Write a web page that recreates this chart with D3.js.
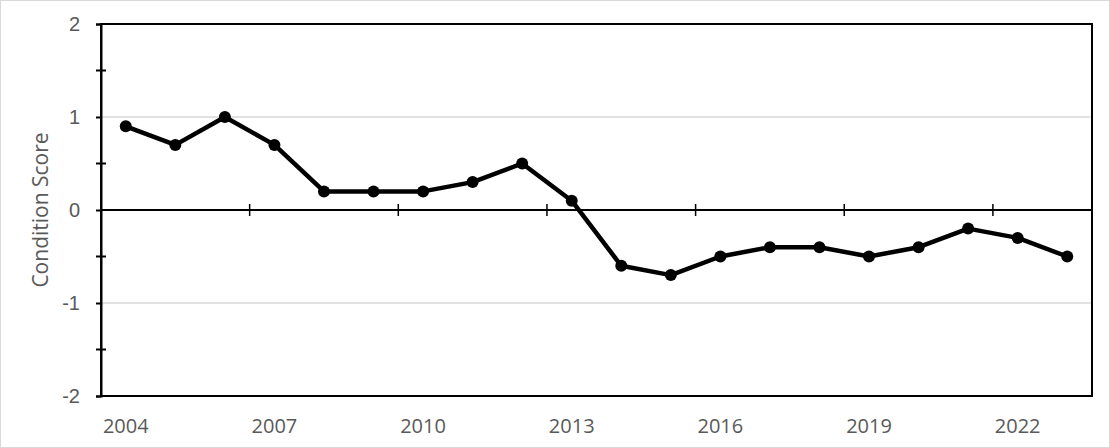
<!DOCTYPE html>
<html>
<head>
<meta charset="utf-8">
<script src="https://cdn.jsdelivr.net/npm/d3@7"></script>
<style>
  body { margin: 0; background: #fff; }
  svg { display: block; font-family: "Open Sans", "Noto Sans", sans-serif; }
</style>
</head>
<body>
<svg id="drawing_region"></svg>
<script>
// data
const years = ["2004","2005","2006","2007","2008","2009","2010","2011","2012","2013",
               "2014","2015","2016","2017","2018","2019","2020","2021","2022","2023"];
const scores = [0.9, 0.7, 1.0, 0.7, 0.2, 0.2, 0.2, 0.3, 0.5, 0.1,
                -0.6, -0.7, -0.5, -0.4, -0.4, -0.5, -0.4, -0.2, -0.3, -0.5];
const yTicks = [-2, -1, 0, 1, 2];
const yMinorTicks = [-1.5, -0.5, 0.5, 1.5];
const xLabelEvery = 3;

const width = 1110, height = 448;
const margin = {top: 24, right: 18, bottom: 52, left: 101};

const svg = d3.select('#drawing_region')
    .attr('width', width)
    .attr('height', height);

// light outer frame
svg.append('rect')
    .attr('x', 0.5).attr('y', 0.5)
    .attr('width', width - 1).attr('height', height - 1)
    .attr('fill', 'none')
    .attr('stroke', '#d9d9d9');

const x = d3.scaleBand()
    .domain(years)
    .range([margin.left, width - margin.right]);

const y = d3.scaleLinear()
    .domain([-2, 2])
    .range([height - margin.bottom, margin.top]);

// gridlines
svg.append('g')
    .selectAll('line')
    .data(yTicks.filter(d => Math.abs(d) === 1))
    .join('line')
    .attr('x1', margin.left).attr('x2', width - margin.right)
    .attr('y1', d => y(d)).attr('y2', d => y(d))
    .attr('stroke', '#d9d9d9')
    .attr('stroke-width', 1.5);

// plot frame
svg.append('rect')
    .attr('x', margin.left).attr('y', margin.top)
    .attr('width', width - margin.left - margin.right)
    .attr('height', height - margin.top - margin.bottom)
    .attr('fill', 'none')
    .attr('stroke', '#000')
    .attr('stroke-width', 2);

// y axis
const yAxis = svg.append('g')
    .attr('transform', `translate(${margin.left},0)`)
    .call(d3.axisLeft(y).tickValues(yTicks).tickSize(5).tickPadding(16).tickFormat(d => String(d)));
yAxis.select('.domain').attr('stroke', '#000').attr('stroke-width', 2);
yAxis.selectAll('.tick line').attr('stroke', '#000').attr('stroke-width', 2);
yAxis.selectAll('.tick text')
    .attr('fill', '#595959')
    .style('font-size', '20px');

// minor y ticks, crossing the axis
svg.append('g')
    .selectAll('line')
    .data(yMinorTicks)
    .join('line')
    .attr('x1', margin.left - 5).attr('x2', margin.left + 5)
    .attr('y1', d => y(d)).attr('y2', d => y(d))
    .attr('stroke', '#000')
    .attr('stroke-width', 2);

// x axis line at zero, with crossing ticks between categories
svg.append('line')
    .attr('x1', margin.left).attr('x2', width - margin.right)
    .attr('y1', y(0)).attr('y2', y(0))
    .attr('stroke', '#000')
    .attr('stroke-width', 2);

svg.append('g')
    .selectAll('line')
    .data(years.filter((d, i) => i > 0 && i % xLabelEvery === 0))
    .join('line')
    .attr('x1', d => x(d)).attr('x2', d => x(d))
    .attr('y1', y(0) - 6).attr('y2', y(0) + 6)
    .attr('stroke', '#000')
    .attr('stroke-width', 1.5);

// x labels at the bottom
svg.append('g')
    .selectAll('text')
    .data(years.filter((d, i) => i % xLabelEvery === 0))
    .join('text')
    .attr('x', d => x(d) + x.bandwidth() / 2)
    .attr('y', height - margin.bottom + 37)
    .attr('text-anchor', 'middle')
    .attr('fill', '#595959')
    .style('font-size', '20px')
    .text(d => d);

// y title
svg.append('text')
    .attr('transform', `translate(48, ${y(0)}) rotate(-90)`)
    .attr('text-anchor', 'middle')
    .attr('fill', '#595959')
    .style('font-size', '21px')
    .text('Condition Score');

// series
const line = d3.line()
    .x((d, i) => x(years[i]) + x.bandwidth() / 2)
    .y(d => y(d));

svg.append('path')
    .datum(scores)
    .attr('d', line)
    .attr('fill', 'none')
    .attr('stroke', '#000')
    .attr('stroke-width', 4.5)
    .attr('stroke-linejoin', 'round');

svg.append('g')
    .selectAll('circle')
    .data(scores)
    .join('circle')
    .attr('cx', (d, i) => x(years[i]) + x.bandwidth() / 2)
    .attr('cy', d => y(d))
    .attr('r', 6)
    .attr('fill', '#000');
</script>
</body>
</html>
